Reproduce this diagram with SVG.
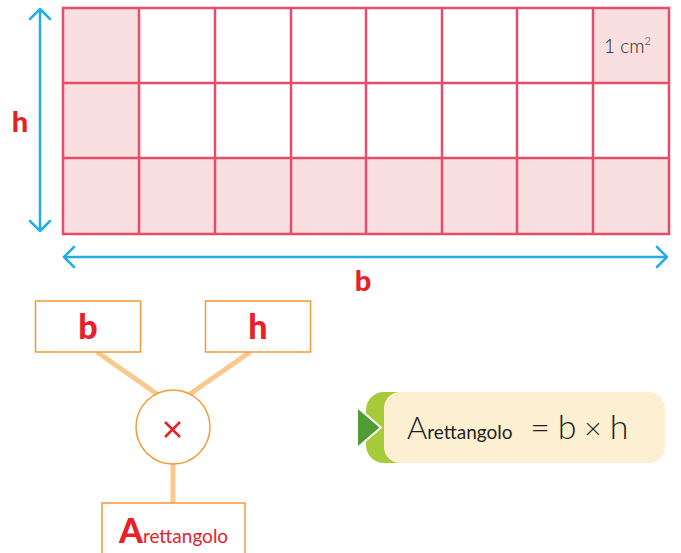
<svg xmlns="http://www.w3.org/2000/svg" width="681" height="553" viewBox="0 0 681 553">
<defs>
<style>
.grid{stroke:#e64c6c;stroke-width:2.5;fill:none}
.pink{fill:#f9dfe0}
.dim{stroke:#22aee4;stroke-width:2.5;fill:none;stroke-linecap:round;stroke-linejoin:round}
.lbl{font-family:Lato,"Open Sans",sans-serif;font-weight:900;fill:#e8202a}
.box{fill:#fff;stroke:#f39a36;stroke-width:1.5}
.conn{stroke:#fbc98d;stroke-width:5}
.txt{font-family:Lato,"Open Sans",sans-serif;fill:#231f20;font-weight:300}
</style>
</defs>
<g id="grid">
<rect class="pink" x="63" y="8" width="76" height="150"/>
<rect class="pink" x="593" y="8" width="76" height="75"/>
<rect class="pink" x="63" y="158" width="606" height="76"/>
<path class="grid" d="M63 8H669V234H63Z M63 83H669 M63 158H669 M139 8V234 M215 8V234 M291 8V234 M366 8V234 M442 8V234 M517 8V234 M593 8V234"/>
<text class="txt" x="604" y="53" font-size="19" font-weight="400">1 cm<tspan dy="-8" font-size="11">2</tspan></text>
</g>
<g id="height-dim">
<path class="dim" d="M40 9V231 M30 19L40 9L50 19 M30 221L40 231L50 221"/>
<text class="lbl" x="20" y="132" font-size="29" text-anchor="middle">h</text>
</g>
<g id="base-dim">
<path class="dim" d="M64 257H667 M74 247L64 257L74 267 M657 247L667 257L657 267"/>
<text class="lbl" x="363" y="291" font-size="29" text-anchor="middle">b</text>
</g>
<g id="connectors">
<line class="conn" x1="97" y1="352" x2="157" y2="394"/>
<line class="conn" x1="250" y1="352" x2="190" y2="394"/>
<line class="conn" x1="173" y1="464" x2="173" y2="503"/>
</g>
<g id="node-b">
<rect class="box" x="35.5" y="301" width="105" height="51"/>
<text class="lbl" x="88" y="339" font-size="34" text-anchor="middle">b</text>
</g>
<g id="node-h">
<rect class="box" x="205.5" y="301" width="105" height="51"/>
<text class="lbl" x="258" y="339" font-size="34" text-anchor="middle">h</text>
</g>
<g id="node-times">
<circle class="box" cx="173" cy="427" r="37"/>
<path d="M165 422L180 437 M180 422L165 437" stroke="#e8202a" stroke-width="2.5"/>
</g>
<g id="node-area">
<rect class="box" x="102" y="503" width="143" height="60"/>
<text class="lbl" x="119" y="543" font-size="34">A<tspan font-size="19" font-weight="400">rettangolo</tspan></text>
</g>
<g id="formula">
<rect x="366" y="392" width="60" height="71" rx="18" fill="#a7ca3b"/>
<rect x="384" y="392" width="281" height="71" rx="16" fill="#fdf0d2"/>
<path d="M357 407L381 427.5L357 448Z" fill="#4f9c35" stroke="#fff" stroke-width="2" stroke-linejoin="round"/>
<text class="txt" x="407" y="439" font-size="31">A<tspan font-size="19" font-weight="400">rettangolo</tspan></text>
<text class="txt" x="540" y="439" font-size="34" text-anchor="middle">=</text>
<text class="txt" x="567" y="439" font-size="34" text-anchor="middle">b</text>
<text class="txt" x="593" y="439" font-size="30" text-anchor="middle">×</text>
<text class="txt" x="619" y="439" font-size="34" text-anchor="middle">h</text>
</g>
</svg>
